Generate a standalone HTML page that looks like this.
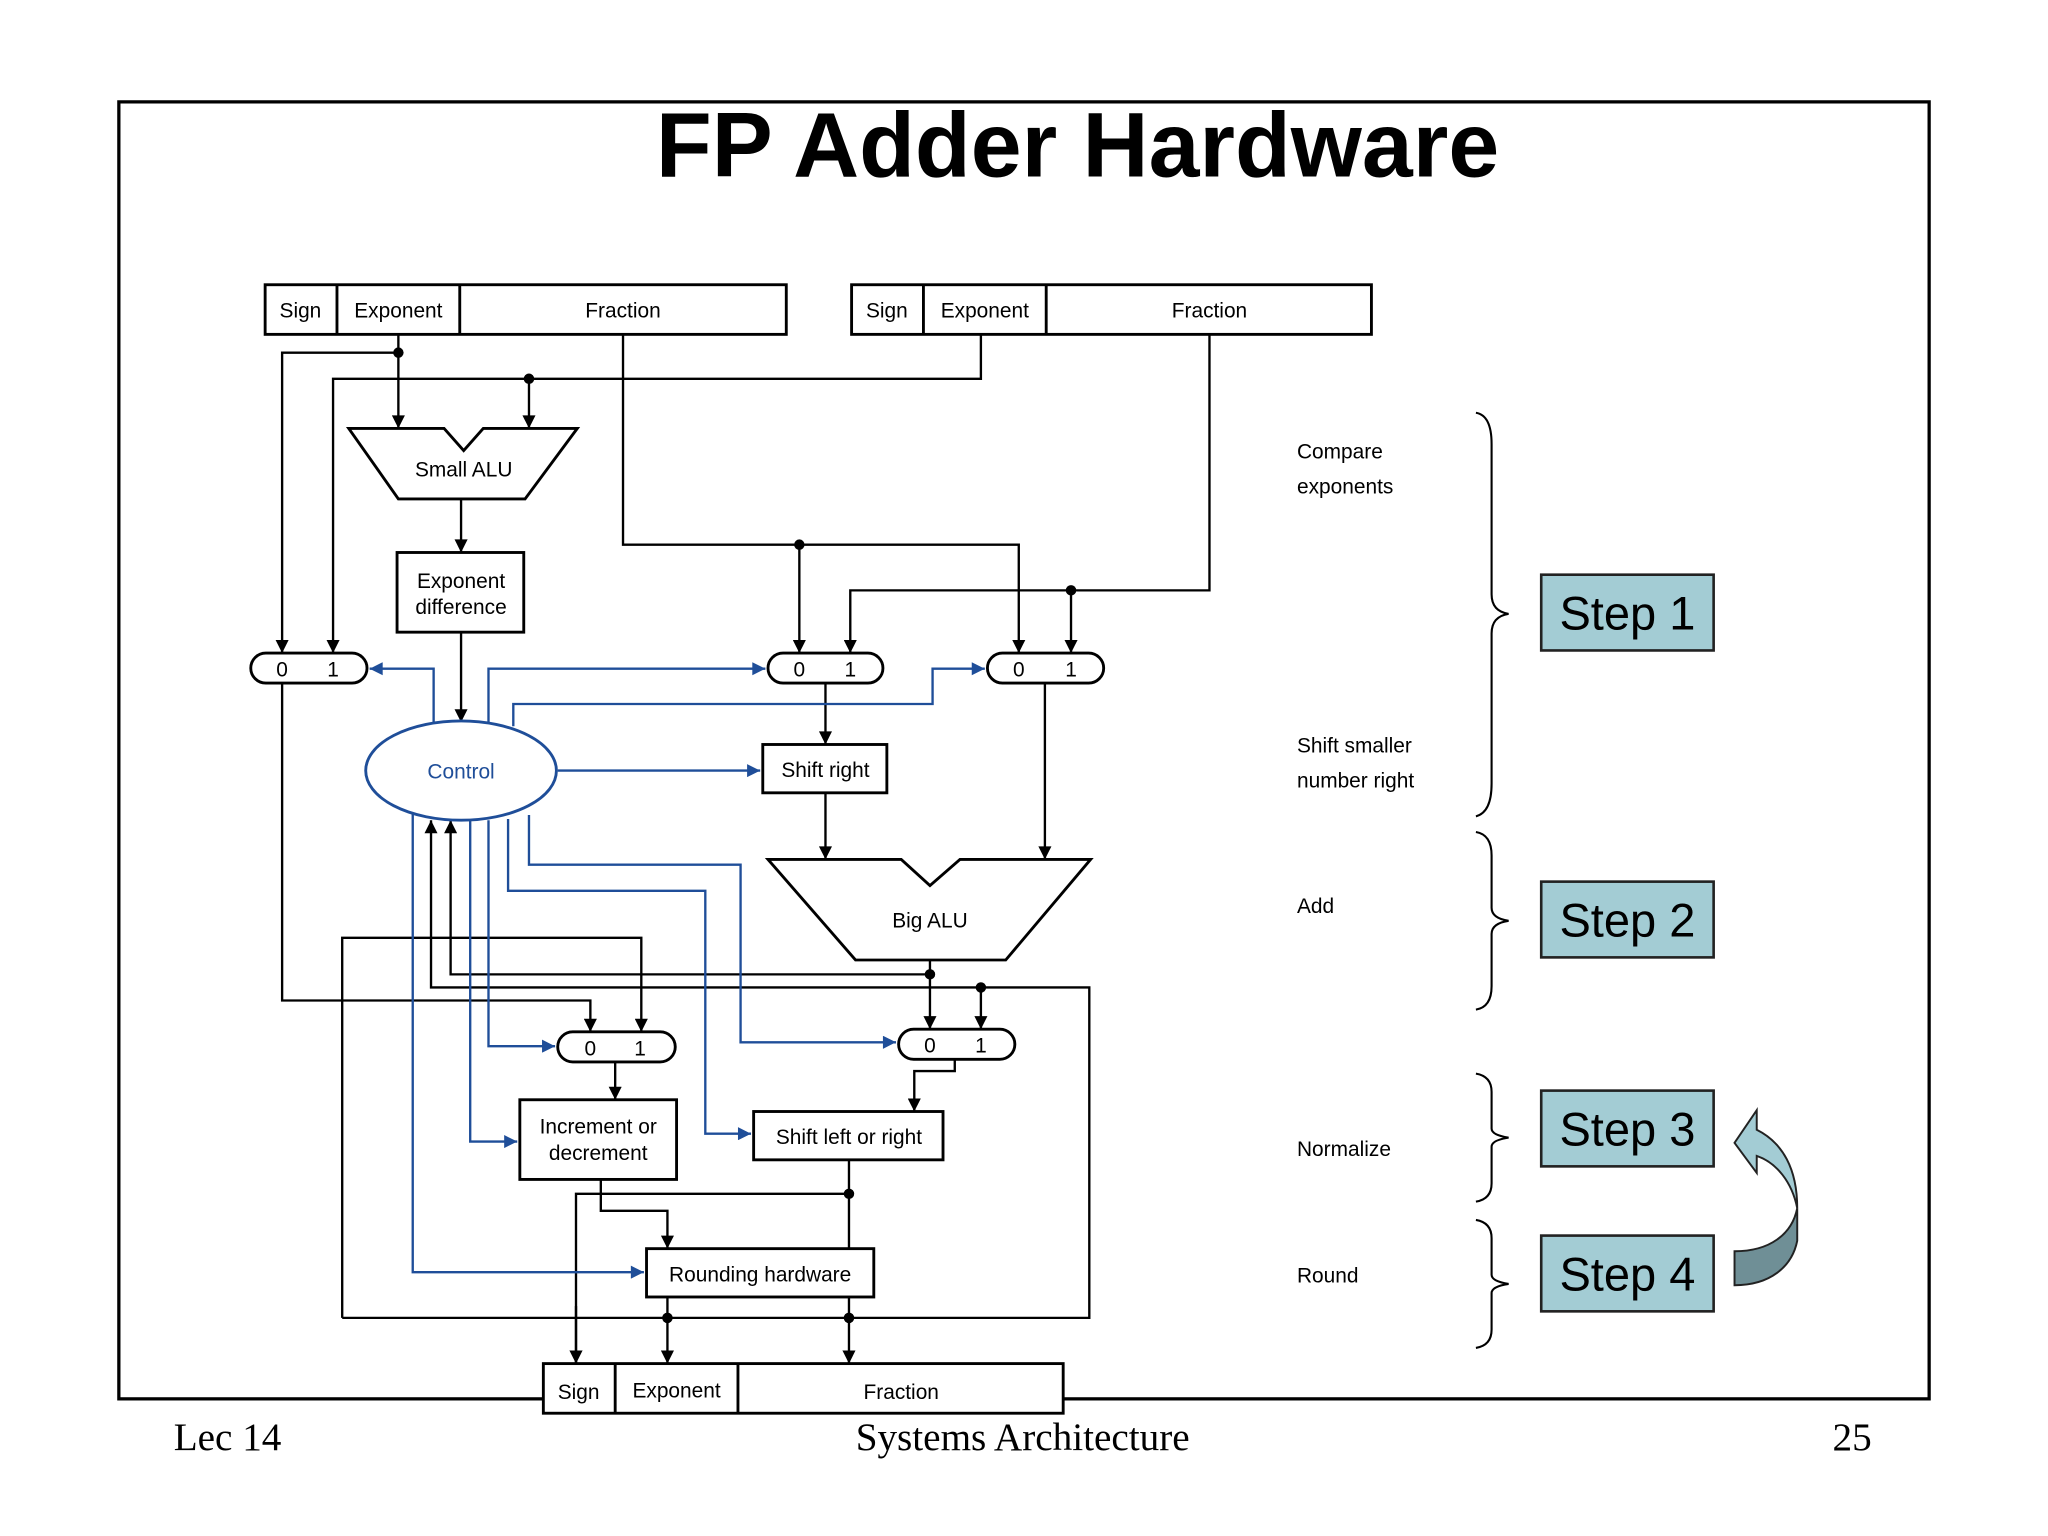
<!DOCTYPE html>
<html><head><meta charset="utf-8"><style>
html,body{margin:0;padding:0;background:#fff;}
svg{display:block}
text{font-family:"Liberation Sans",sans-serif;}
</style></head><body>
<svg width="2048" height="1536" viewBox="0 0 1568 1176" preserveAspectRatio="none" xmlns="http://www.w3.org/2000/svg">
<defs>
<marker id="a" viewBox="0 0 10 10" refX="10" refY="5" markerWidth="12" markerHeight="10" markerUnits="userSpaceOnUse" orient="auto"><path d="M0,0 L10,5 L0,10 z" fill="#000"/></marker>
<marker id="b" viewBox="0 0 10 10" refX="10" refY="5" markerWidth="14" markerHeight="10" markerUnits="userSpaceOnUse" orient="auto"><path d="M0,0 L10,5 L0,10 z" fill="#1f4e99"/></marker>
</defs>
<rect x="0" y="0" width="1568" height="1176" fill="#fff"/>
<rect x="91" y="78" width="1386" height="993" fill="none" stroke="#000" stroke-width="2.5"/>
<text x="825" y="135" font-size="70" font-weight="bold" text-anchor="middle">FP Adder Hardware</text>

<g fill="none" stroke="#000" stroke-width="2.2">
<rect x="203" y="218" width="399" height="38" fill="#fff"/><line x1="258" y1="218" x2="258" y2="256"/><line x1="352" y1="218" x2="352" y2="256"/>
<rect x="652" y="218" width="398" height="38" fill="#fff"/><line x1="707" y1="218" x2="707" y2="256"/><line x1="801" y1="218" x2="801" y2="256"/>
<path d="M267,328 L340,328 L355,345 L370,328 L442,328 L402,382 L305,382 Z"/>
<rect x="304" y="423" width="97" height="61"/>
<rect x="192" y="500" width="89" height="23" rx="11.5"/>
<rect x="588" y="500" width="88" height="23" rx="11.5"/>
<rect x="756" y="500" width="89" height="23" rx="11.5"/>
<rect x="584" y="570" width="95" height="37"/>
<path d="M588,658 L690,658 L712,678 L735,658 L835,658 L770,735 L655,735 Z"/>
<rect x="427" y="790" width="90" height="23" rx="11.5"/>
<rect x="688" y="788" width="89" height="23" rx="11.5"/>
<rect x="398" y="842" width="120" height="61"/>
<rect x="577" y="851" width="145" height="37"/>
<rect x="495" y="956" width="174" height="37"/>
</g>
<g fill="none" stroke="#000" stroke-width="1.8">
<polyline points="305,256 305,328" marker-end="url(#a)"/>
<polyline points="305,270 216,270 216,500" marker-end="url(#a)"/>
<polyline points="751,256 751,290 255,290 255,500" marker-end="url(#a)"/>
<polyline points="405,290 405,328" marker-end="url(#a)"/>
<polyline points="353,382 353,423" marker-end="url(#a)"/>
<polyline points="353,484 353,553" marker-end="url(#a)"/>
<polyline points="477,256 477,417 780,417 780,500" marker-end="url(#a)"/>
<polyline points="612,417 612,500" marker-end="url(#a)"/>
<polyline points="926,256 926,452 651,452 651,500" marker-end="url(#a)"/>
<polyline points="820,452 820,500" marker-end="url(#a)"/>
<polyline points="632,523 632,570" marker-end="url(#a)"/>
<polyline points="632,607 632,658" marker-end="url(#a)"/>
<polyline points="800,523 800,658" marker-end="url(#a)"/>
<polyline points="216,523 216,766 452,766 452,790" marker-end="url(#a)"/>
<polyline points="262,1009 262,718 491,718 491,790" marker-end="url(#a)"/>
<polyline points="262,1009 834,1009 834,756 330,756 330,628" marker-end="url(#a)"/>
<polyline points="712,735 712,788" marker-end="url(#a)"/>
<polyline points="712,746 345,746 345,628" marker-end="url(#a)"/>
<polyline points="751,756 751,788" marker-end="url(#a)"/>
<polyline points="471,813 471,842" marker-end="url(#a)"/>
<polyline points="731,811 731,820 700,820 700,851" marker-end="url(#a)"/>
<polyline points="460,903 460,927 511,927 511,956" marker-end="url(#a)"/>
<polyline points="441,1044 441,914 650,914"/>
<line x1="441" y1="1000" x2="441" y2="1044" marker-end="url(#a)"/>
<polyline points="650,888 650,956"/>
<polyline points="511,993 511,1044" marker-end="url(#a)"/>
<polyline points="650,993 650,1044" marker-end="url(#a)"/>
</g>
<g fill="#000">
<circle cx="305" cy="270" r="4"/><circle cx="405" cy="290" r="4"/><circle cx="612" cy="417" r="4"/><circle cx="820" cy="452" r="4"/>
<circle cx="712" cy="746" r="4"/><circle cx="751" cy="756" r="4"/><circle cx="650" cy="914" r="4"/><circle cx="511" cy="1009" r="4"/><circle cx="650" cy="1009" r="4"/>
</g>
<g fill="none" stroke="#1f4e99" stroke-width="1.8">
<polyline points="332,553 332,512 283,512" marker-end="url(#b)"/>
<polyline points="374,553 374,512 586,512" marker-end="url(#b)"/>
<polyline points="393,556 393,539 714,539 714,512 754,512" marker-end="url(#b)"/>
<polyline points="427,590 582,590" marker-end="url(#b)"/>
<polyline points="405,624 405,662 567,662 567,798 686,798" marker-end="url(#b)"/>
<polyline points="389,627 389,682 540,682 540,868 575,868" marker-end="url(#b)"/>
<polyline points="374,628 374,801 425,801" marker-end="url(#b)"/>
<polyline points="360,627 360,874 396,874" marker-end="url(#b)"/>
<polyline points="316,620 316,974 493,974" marker-end="url(#b)"/>
</g>
<ellipse cx="353" cy="590" rx="73" ry="38" fill="#fff" stroke="#1f4e99" stroke-width="2.2"/>
<text x="353" y="596" font-size="16" fill="#1f4e99" text-anchor="middle">Control</text>

<rect x="416" y="1044" width="398" height="38" fill="#fff" stroke="#000" stroke-width="2.2"/>
<line x1="471" y1="1044" x2="471" y2="1082" stroke="#000" stroke-width="2.2"/><line x1="565" y1="1044" x2="565" y2="1082" stroke="#000" stroke-width="2.2"/>

<g font-size="16" text-anchor="middle" fill="#000">
<text x="230" y="243">Sign</text><text x="305" y="243">Exponent</text><text x="477" y="243">Fraction</text>
<text x="679" y="243">Sign</text><text x="754" y="243">Exponent</text><text x="926" y="243">Fraction</text>
<text x="355" y="365">Small ALU</text>
<text x="353" y="450">Exponent</text><text x="353" y="470">difference</text>
<text x="216" y="518">0</text><text x="255" y="518">1</text>
<text x="612" y="518">0</text><text x="651" y="518">1</text>
<text x="780" y="518">0</text><text x="820" y="518">1</text>
<text x="632" y="595">Shift right</text>
<text x="712" y="710">Big ALU</text>
<text x="452" y="808">0</text><text x="490" y="808">1</text>
<text x="712" y="806">0</text><text x="751" y="806">1</text>
<text x="458" y="868">Increment or</text><text x="458" y="888">decrement</text>
<text x="650" y="876">Shift left or right</text>
<text x="582" y="981">Rounding hardware</text>
<text x="443" y="1071">Sign</text><text x="518" y="1070">Exponent</text><text x="690" y="1071">Fraction</text>
</g>
<g font-size="16" fill="#000">
<text x="993" y="351">Compare</text><text x="993" y="378">exponents</text>
<text x="993" y="576">Shift smaller</text><text x="993" y="603">number right</text>
<text x="993" y="699">Add</text><text x="993" y="885">Normalize</text><text x="993" y="982">Round</text>
</g>
<g fill="none" stroke="#000" stroke-width="1.6">
<path d="M1130,316 Q1142,318 1142,340 L1142,455 Q1142,468 1155,470 Q1142,472 1142,485 L1142,600 Q1142,622 1130,625"/>
<path d="M1130,637 Q1142,639 1142,655 L1142,695 Q1142,703 1155,705 Q1142,707 1142,715 L1142,755 Q1142,771 1130,773"/>
<path d="M1130,822 Q1142,824 1142,836 L1142,864 Q1142,869 1155,871 Q1142,873 1142,878 L1142,906 Q1142,918 1130,920"/>
<path d="M1130,934 Q1142,936 1142,948 L1142,976 Q1142,981 1155,983 Q1142,985 1142,990 L1142,1018 Q1142,1030 1130,1032"/>
</g>
<g fill="#a3ccd4" stroke="#222" stroke-width="2">
<rect x="1180" y="440" width="132" height="58"/>
<rect x="1180" y="675" width="132" height="58"/>
<rect x="1180" y="835" width="132" height="58"/>
<rect x="1180" y="946" width="132" height="58"/>
</g>
<g font-size="36" text-anchor="middle" fill="#000">
<text x="1246" y="482">Step 1</text><text x="1246" y="717">Step 2</text><text x="1246" y="877">Step 3</text><text x="1246" y="988">Step 4</text>
</g>
<path d="M1376,925 C1376,895 1365,875 1345,865 L1345,850 L1328,875 L1345,898 L1345,885 C1360,890 1372,905 1376,925 Z" fill="#a3ccd4" stroke="#222" stroke-width="1.5"/>
<path d="M1328,958 C1355,958 1372,945 1376,925 L1376,950 C1372,970 1355,984 1328,984 Z" fill="#6f8f96" stroke="#222" stroke-width="1.5"/>

<g font-size="30" fill="#000">
<text x="133" y="1110" style="font-family:'Liberation Serif',serif">Lec 14</text>
<text x="783" y="1110" text-anchor="middle" style="font-family:'Liberation Serif',serif">Systems Architecture</text>
<text x="1433" y="1110" text-anchor="end" style="font-family:'Liberation Serif',serif">25</text>
</g>
</svg>
</body></html>
